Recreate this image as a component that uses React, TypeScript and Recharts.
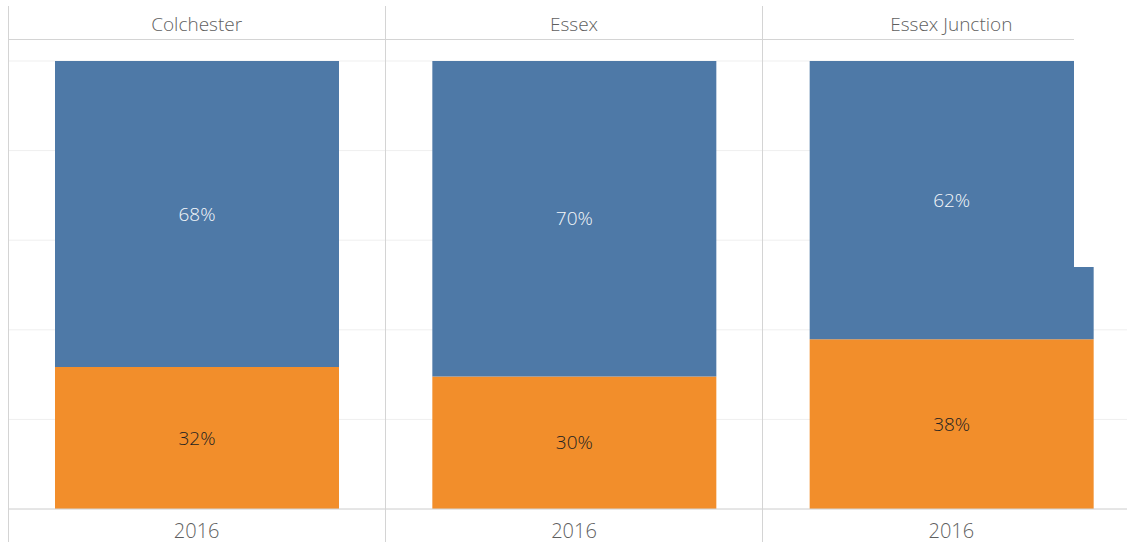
import { BarChart, Bar, XAxis, YAxis, CartesianGrid, LabelList } from "recharts";

// share of respondents per town, 2016 (orange = bottom segment, blue = top)
const cities = ["Colchester", "Essex", "Essex Junction"];
const years = ["2016", "2016", "2016"];
const orangeShare = [31.7, 29.6, 37.9];
const blueShare = [68.3, 70.4, 62.1];
const yTicks = [0, 20, 40, 60, 80, 100];

const data = cities.map((city, i) => ({
  city,
  year: years[i],
  orange: orangeShare[i],
  blue: blueShare[i],
}));

const FONT = "'Open Sans', sans-serif";
const pct = (v: number) => `${Math.round(v)}%`;

const vline = (left: number) => (
  <div style={{ position: "absolute", left, top: 6, width: 1, height: 536, background: "#d4d4d4" }} />
);

export default function App() {
  return (
    <div style={{ position: "fixed", left: 0, top: 0, width: 1127, height: 545, overflow: "hidden", background: "#fff" }}>
      <BarChart
        width={1140}
        height={545}
        data={data}
        margin={{ top: 0, right: 0, left: 8, bottom: 0 }}
        barSize={284}
        style={{ fontFamily: FONT, fontWeight: 300 }}
      >
        <CartesianGrid vertical={false} stroke="#efefef" />
        <YAxis hide domain={[0, 100]} ticks={yTicks} />
        <XAxis
          xAxisId="city"
          dataKey="city"
          orientation="top"
          height={61}
          axisLine={false}
          tickLine={false}
          tickSize={0}
          tickMargin={30}
          tick={{ fill: "#5f5f5f", fontSize: 19, fontWeight: 300 }}
        />
        <XAxis
          xAxisId="year"
          dataKey="year"
          height={36}
          axisLine={{ stroke: "#d4d4d4" }}
          tickLine={false}
          tickSize={0}
          tickMargin={15}
          tick={{ fill: "#5f5f5f", fontSize: 20, fontWeight: 300 }}
        />
        <Bar xAxisId="year" dataKey="orange" stackId="s" fill="#f28e2b" isAnimationActive={false}>
          <LabelList dataKey="orange" position="center" formatter={pct} fill="#222" fontSize={19} fontWeight={300} />
        </Bar>
        <Bar xAxisId="year" dataKey="blue" stackId="s" fill="#4e79a7" isAnimationActive={false}>
          <LabelList dataKey="blue" position="center" formatter={pct} fill="#f4f7fa" fontSize={19} fontWeight={300} />
        </Bar>
      </BarChart>
      {vline(8)}
      {vline(385)}
      {vline(762)}
      <div style={{ position: "absolute", left: 9, top: 39, width: 1118, height: 1, background: "#d4d4d4" }} />
      <div style={{ position: "absolute", left: 1074, top: 0, width: 60, height: 267, background: "#fff" }} />
    </div>
  );
}
